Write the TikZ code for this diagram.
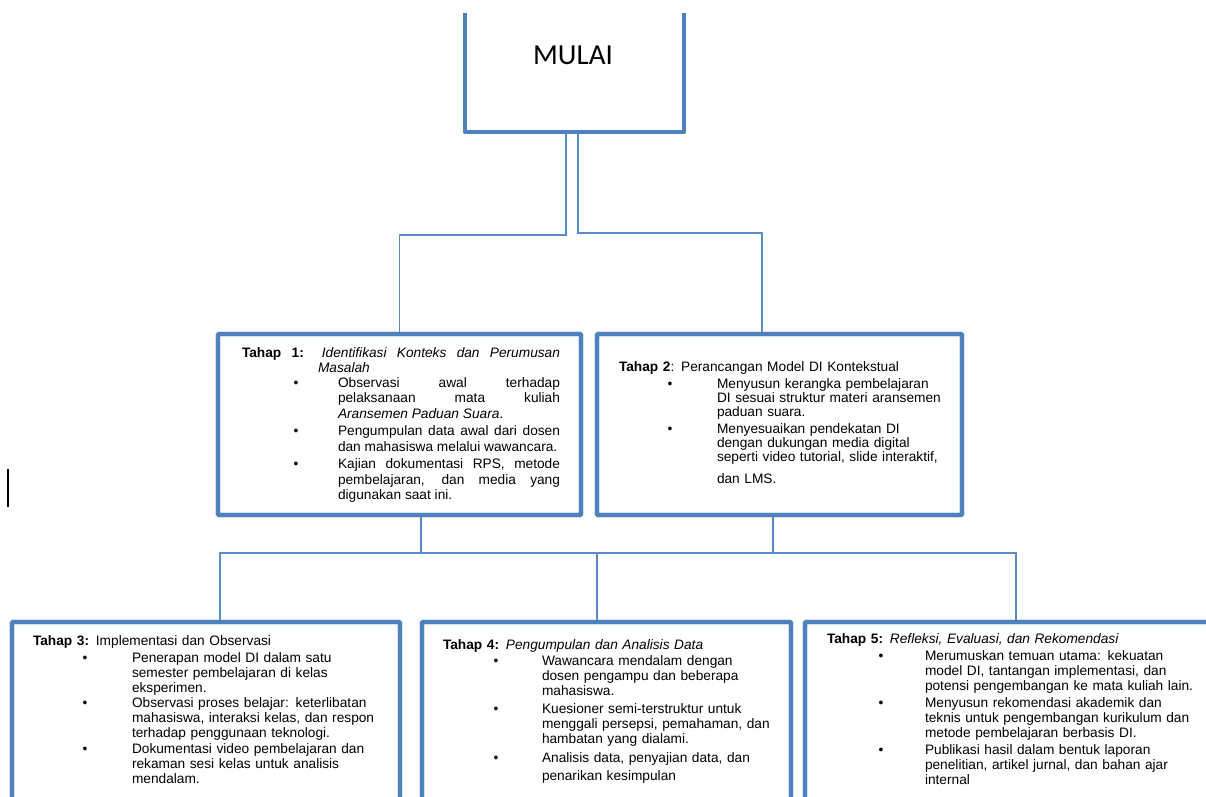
\documentclass[tikz,border=0pt]{standalone}
\usepackage{fontspec}
\setmainfont{Liberation Sans}
\newfontfamily\calibrifont{Carlito}
\definecolor{boxblue}{HTML}{4F81BD}
\definecolor{linkblue}{HTML}{5B8CC8}
\newenvironment{tlist}[4]{%
  \begin{list}{\textbullet}{%
    \setlength\leftmargin{#1}\setlength\labelwidth{0pt}\setlength\labelsep{#2}%
    \setlength\topsep{#3}\setlength\partopsep{0pt}\setlength\parsep{0pt}%
    \setlength\itemsep{#4}\setlength\itemindent{0pt}\setlength\listparindent{0pt}%
    \setlength\rightmargin{0pt}\def\makelabel##1{\makebox[0pt]{##1}}}}
  {\end{list}}
\tikzset{
  stagebox/.style={draw=boxblue, fill=white, line width=4.2pt, rounded corners=1pt,
    anchor=north west, inner sep=0pt, outer sep=0pt},
  link/.style={draw=linkblue, line width=1.4pt},
  txt/.style={anchor=base west, inner sep=0pt, outer sep=0pt, font={\fontsize{13.7}{15}\selectfont}},
}
\begin{document}
\begin{tikzpicture}[x=1pt,y=-1pt]
\useasboundingbox (0,0) rectangle (1206,796);
\clip (0,0) rectangle (1206,796);

% boxes
\node[anchor=north west, inner sep=0pt, outer sep=0pt, minimum width=219pt, minimum height=119pt] (mulai) at (465,13) {};
\node[stagebox, minimum width=363pt, minimum height=181pt] (t1) at (218,334) {};
\node[stagebox, minimum width=365pt, minimum height=181pt] (t2) at (597,334) {};
\node[stagebox, minimum width=388pt, minimum height=200pt] (t3) at (12,622) {};
\node[stagebox, minimum width=369pt, minimum height=200pt] (t4) at (422,622) {};
\node[stagebox, minimum width=415pt, minimum height=200pt] (t5) at (805,622) {};

% connectors
\draw[link] ([xshift=-8.5pt]mulai.south) -- ++(0,103) -| (t1.north);
\draw[link] ([xshift=3.5pt]mulai.south) -- ++(0,101) -| ([xshift=-17.5pt]t2.north);
\draw[link] ([xshift=21.5pt]t1.south) -- ++(0,38);
\draw[link] ([xshift=-6.5pt]t2.south) -- ++(0,38);
\draw[link] ([xshift=14pt]t3.north) -- ++(0,-69) -| ([xshift=3.5pt]t5.north);
\draw[link] ([xshift=-9.5pt]t4.north) -- ++(0,-69);

% redraw box borders on top of connectors
\draw[draw=boxblue, line width=4.2pt, line join=round]
  (mulai.north west) -- (mulai.south west) -- (mulai.south east) -- (mulai.north east);
\foreach \b in {t1,t2,t3,t4,t5}{
  \draw[draw=boxblue, line width=4.2pt, rounded corners=1pt] (\b.north west) rectangle (\b.south east);
}

\node[inner sep=0pt, font={\calibrifont\fontsize{29}{30}\selectfont}] (mulaitxt) at (573,55) {MULAI};

% Tahap 1
\node[txt, text width=318pt, align=justify] (t1txt) at (242,357) {%
  \setlength\parskip{0pt}\tolerance=10000 \hbadness=10000 \rightskip=0pt \fontsize{13.7}{15.3}\selectfont
  {\hangindent=76pt \hangafter=1 \textbf{Tahap 1:} \textit{Identifikasi Konteks dan Perumusan}\linebreak \textit{Masalah}\par}
  \begin{tlist}{96pt}{42pt}{0pt}{2.4pt}
  \item Observasi awal terhadap\linebreak pelaksanaan mata kuliah\linebreak \textit{Aransemen Paduan Suara}.
  \item Pengumpulan data awal dari dosen\linebreak dan mahasiswa melalui wawancara.
  \item Kajian dokumentasi RPS, metode\linebreak pembelajaran, dan media yang\linebreak digunakan saat ini.
  \end{tlist}};

% Tahap 2
\node[txt, text width=330pt] (t2txt) at (619,371) {%
  \setlength\parskip{0pt}\raggedright\fontsize{13.7}{14}\selectfont
  \textbf{Tahap 2}: Perancangan Model DI Kontekstual\par
  \begin{tlist}{98pt}{47pt}{3pt}{3pt}
  \item Menyusun kerangka pembelajaran\\ DI sesuai struktur materi aransemen\\ paduan suara.
  \item Menyesuaikan pendekatan DI\\ dengan dukungan media digital\\ seperti video tutorial, slide interaktif,\\[8pt] dan LMS.
  \end{tlist}};

% Tahap 3
\node[txt, text width=365pt] (t3txt) at (33,645) {%
  \setlength\parskip{0pt}\raggedright\fontsize{13.7}{15}\selectfont
  \textbf{Tahap 3:} Implementasi dan Observasi\par
  \begin{tlist}{99pt}{47pt}{2pt}{0.5pt}
  \item Penerapan model DI dalam satu\\ semester pembelajaran di kelas\\ eksperimen.
  \item Observasi proses belajar: keterlibatan\\ mahasiswa, interaksi kelas, dan respon\\ terhadap penggunaan teknologi.
  \item Dokumentasi video pembelajaran dan\\ rekaman sesi kelas untuk analisis\\ mendalam.
  \end{tlist}};

% Tahap 4
\node[txt, text width=340pt] (t4txt) at (443,649) {%
  \setlength\parskip{0pt}\raggedright\fontsize{13.7}{15}\selectfont
  \textbf{Tahap 4:} \textit{Pengumpulan dan Analisis Data}\par
  \begin{tlist}{99pt}{46pt}{1pt}{3.5pt}
  \item Wawancara mendalam dengan\\ dosen pengampu dan beberapa\\ mahasiswa.
  \item Kuesioner semi-terstruktur untuk\\ menggali persepsi, pemahaman, dan\\ hambatan yang dialami.
  \item Analisis data, penyajian data, dan\\[3pt] penarikan kesimpulan
  \end{tlist}};

% Tahap 5
\node[txt, text width=378pt] (t5txt) at (827,643) {%
  \setlength\parskip{0pt}\raggedright\fontsize{13.7}{15}\selectfont
  \textbf{Tahap 5:} \textit{Refleksi, Evaluasi, dan Rekomendasi}\par
  \begin{tlist}{98pt}{44pt}{2pt}{2pt}
  \item Merumuskan temuan utama: kekuatan\\ model DI, tantangan implementasi, dan\\ potensi pengembangan ke mata kuliah lain.
  \item Menyusun rekomendasi akademik dan\\ teknis untuk pengembangan kurikulum dan\\ metode pembelajaran berbasis DI.
  \item Publikasi hasil dalam bentuk laporan\\ penelitian, artikel jurnal, dan bahan ajar\\ internal
  \end{tlist}};

% cursor mark
\draw[line width=2.5pt] (8,469) -- (8,507);
\end{tikzpicture}
\end{document}
